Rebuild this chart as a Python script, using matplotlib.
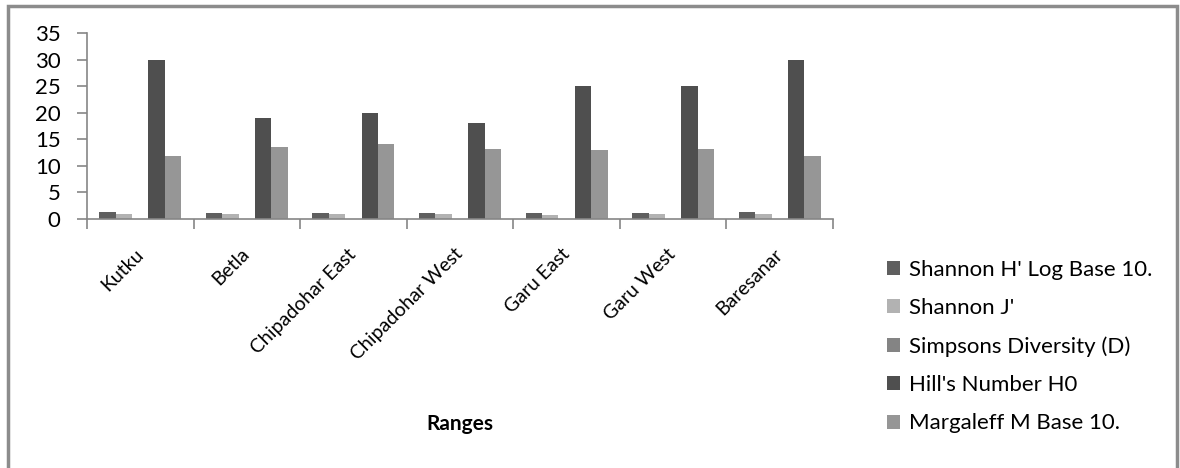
import matplotlib.pyplot as plt
import matplotlib.transforms as mtransforms
from matplotlib.patches import Rectangle
import numpy as np

plt.rcParams['font.family'] = ['Lato', 'DejaVu Sans']

ranges = ["Kutku", "Betla", "Chipadohar East", "Chipadohar West",
          "Garu East", "Garu West", "Baresanar"]
series_names = ["Shannon H' Log Base 10.", "Shannon J'", "Simpsons Diversity (D)",
                "Hill's Number H0", "Margaleff M Base 10."]
shannon_h = [1.35, 1.1, 1.15, 1.05, 1.15, 1.2, 1.3]
shannon_j = [0.85, 0.85, 0.85, 0.85, 0.8, 0.85, 0.85]
simpsons_d = [0.05, 0.05, 0.05, 0.05, 0.05, 0.05, 0.05]
hills_h0 = [30, 19, 20, 18, 25, 25, 30]
margaleff_m = [11.8, 13.5, 14.2, 13.2, 13.0, 13.1, 11.8]

values = [shannon_h, shannon_j, simpsons_d, hills_h0, margaleff_m]
colors = ['#5f5f5f', '#b2b2b2', '#848484', '#4f4f4f', '#969696']

fig = plt.figure(figsize=(11.8, 4.68), dpi=100)
ax = fig.add_axes([87/1180, 1 - 219/468, (833 - 87)/1180, (219 - 33)/468])

# outer frame of the chart area
fig.patches.append(Rectangle((8/1180, -0.02), (1177 - 8)/1180, 1.02 - 6/468,
                             transform=fig.transFigure, fill=False,
                             edgecolor='#8c8c8c', linewidth=2.5))

x = np.arange(len(ranges))
w = 1 / 6.5
for k, (vals, name, c) in enumerate(zip(values, series_names, colors)):
    ax.bar(x + (k - 2) * w, vals, width=w, color=c, label=name)

ax.set_xlim(-0.5, len(ranges) - 0.5)
ax.set_ylim(0, 35)
ax.set_yticks(range(0, 36, 5))
ax.tick_params(axis='y', labelsize=16, length=7, width=1.2, color='#868686', pad=12)

ax.set_xticks(x)
ax.set_xticklabels(ranges, rotation=45, ha='right', rotation_mode='anchor', fontsize=14)
ax.tick_params(axis='x', which='major', length=0, pad=19)
offset = mtransforms.ScaledTranslation(-6/100, 0, fig.dpi_scale_trans)
for lab in ax.get_xticklabels():
    lab.set_transform(lab.get_transform() + offset)
ax.set_xticks(np.arange(-0.5, len(ranges), 1), minor=True)
ax.tick_params(axis='x', which='minor', length=7, width=1.2, color='#868686')

for s in ['top', 'right']:
    ax.spines[s].set_visible(False)
for s in ['left', 'bottom']:
    ax.spines[s].set_color('#868686')
    ax.spines[s].set_linewidth(1.2)

fig.text(460/1180, 1 - 424/468, "Ranges", fontsize=15, fontweight='bold',
         ha='center', va='center')

leg = fig.legend(loc='upper left', bbox_to_anchor=(867/1180, 1 - 240/468),
                 frameon=False, fontsize=16, handlelength=0.6, handleheight=0.6,
                 handletextpad=0.4, labelspacing=0.82)

fig.savefig('out.png', dpi=100)
